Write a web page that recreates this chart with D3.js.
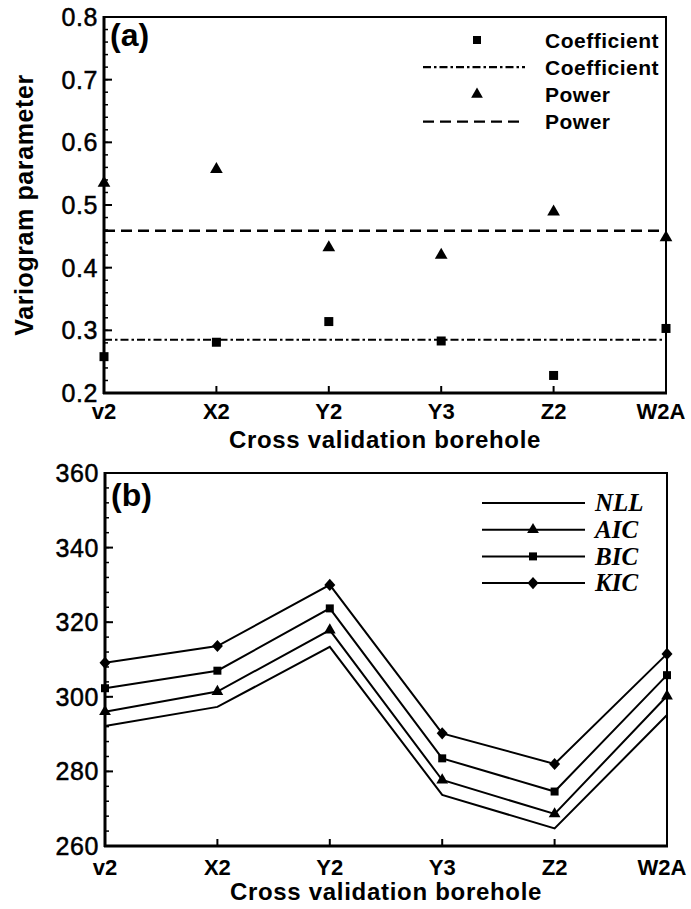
<!DOCTYPE html>
<html><head><meta charset="utf-8">
<script src="https://cdn.jsdelivr.net/npm/d3@7"></script>
<style>body{margin:0;background:#fff}svg{display:block}</style>
</head><body>
<script>
const categories = ["v2","X2","Y2","Y3","Z2","W2A"];
// Panel (a)
const coefficient = [0.258,0.281,0.314,0.283,0.228,0.303];
const power = [0.535,0.557,0.432,0.420,0.489,0.448];
const coefficientMean = 0.285;
const powerMean = 0.459;
const ticksA = [0.2,0.3,0.4,0.5,0.6,0.7,0.8];
// Panel (b)
const NLL = [292.2,297.3,313.4,273.7,264.7,295.1];
const AIC = [296.0,301.4,317.9,277.7,268.6,300.2];
const BIC = [302.3,307.0,323.7,283.5,274.6,305.8];
const KIC = [309.1,313.6,330.0,290.2,282.0,311.5];
const ticksB = [260,280,300,320,340,360];

const W=691,H=909;
const svg=d3.select("body").append("svg").attr("width",W).attr("height",H);
const FONT="Liberation Sans, Arial, sans-serif";

function panel(cfg){
  const x=d3.scalePoint().domain(categories).range([cfg.x0,cfg.x1]).padding(0);
  const y=d3.scaleLinear().domain(cfg.ydom).range([cfg.y0,cfg.y1]);
  const g=svg.append("g");
  g.append("rect").attr("x",cfg.x0).attr("y",cfg.y1).attr("width",cfg.x1-cfg.x0).attr("height",cfg.y0-cfg.y1)
    .attr("fill","none").attr("stroke","#000").attr("stroke-width",2);
  g.append("line").attr("x1",cfg.x0).attr("x2",cfg.x0).attr("y1",cfg.y0+1).attr("y2",cfg.y1-1).attr("stroke","#000").attr("stroke-width",3);
  g.append("line").attr("x1",cfg.x0-1).attr("x2",cfg.x1+1).attr("y1",cfg.y0).attr("y2",cfg.y0).attr("stroke","#000").attr("stroke-width",3);
  const minor=d3.range(cfg.ydom[0],cfg.ydom[1]+1e-9,cfg.minorStep);
  g.selectAll(".ym").data(minor).join("line")
    .attr("x1",cfg.x0).attr("x2",cfg.x0+4).attr("y1",d=>y(d)).attr("y2",d=>y(d)).attr("stroke","#000").attr("stroke-width",1.5);
  g.selectAll(".yM").data(cfg.ticks).join("line")
    .attr("x1",cfg.x0).attr("x2",cfg.x0+8).attr("y1",d=>y(d)).attr("y2",d=>y(d)).attr("stroke","#000").attr("stroke-width",2);
  g.selectAll(".yl").data(cfg.ticks).join("text")
    .attr("x",cfg.x0-6).attr("y",d=>y(d)).attr("dy","0.36em").attr("text-anchor","end")
    .attr("font-family",FONT).attr("font-size",25).attr("letter-spacing",0.6)
    .attr("stroke","#000").attr("stroke-width",0.5)
    .text(d=>cfg.fmt(d));
  g.selectAll(".xM").data(categories).join("line")
    .attr("x1",d=>x(d)).attr("x2",d=>x(d)).attr("y1",cfg.y0).attr("y2",cfg.y0-7).attr("stroke","#000").attr("stroke-width",2);
  g.selectAll(".xl").data(categories).join("text")
    .attr("x",d=>d==="W2A"?x(d)-5:x(d)).attr("y",cfg.xlabY).attr("text-anchor","middle")
    .attr("font-family",FONT).attr("font-weight","bold").attr("font-size",22)
    .text(d=>d);
  g.append("text").attr("x",(cfg.x0+cfg.x1)/2).attr("y",cfg.titleY).attr("text-anchor","middle")
    .attr("font-family",FONT).attr("font-weight","bold").attr("font-size",24).attr("letter-spacing",0.7)
    .text("Cross validation borehole");
  g.append("text").attr("x",cfg.x0+6).attr("y",cfg.labY)
    .attr("font-family",FONT).attr("font-weight","bold").attr("font-size",32)
    .text(cfg.label);
  return {x,y,g};
}

const sq=d3.symbol().type(d3.symbolSquare);
const tri=d3.symbol().type(d3.symbolTriangle);
const diamondPath=(r)=>`M0,${-r*1.1}L${r},0L0,${r*1.1}L${-r},0Z`;

// ---- Panel (a)
const A=panel({x0:104,x1:666,y0:393,y1:17,ydom:[0.2,0.8],ticks:ticksA,minorStep:0.02,
  fmt:d3.format(".1f"),xlabY:419,titleY:448,label:"(a)",labY:46});

A.g.append("line").attr("x1",104).attr("x2",666).attr("y1",A.y(coefficientMean)).attr("y2",A.y(coefficientMean))
  .attr("stroke","#000").attr("stroke-width",2.2).attr("stroke-dasharray","8,3,2.5,3");
A.g.append("line").attr("x1",104).attr("x2",666).attr("y1",A.y(powerMean)).attr("y2",A.y(powerMean))
  .attr("stroke","#000").attr("stroke-width",2.4).attr("stroke-dasharray","11,6");
A.g.selectAll(".cs").data(coefficient).join("path")
  .attr("d",sq.size(81)).attr("transform",(d,i)=>`translate(${A.x(categories[i])},${A.y(d)})`);
A.g.selectAll(".pt").data(power).join("path")
  .attr("d",tri.size(70)).attr("transform",(d,i)=>`translate(${A.x(categories[i])},${A.y(d)})`);

svg.append("text").attr("transform","translate(33,205) rotate(-90)").attr("text-anchor","middle")
  .attr("font-family",FONT).attr("font-weight","bold").attr("font-size",25).attr("letter-spacing",0.6)
  .text("Variogram parameter");

const legA=[
  {t:"Coefficient",k:"sq"},{t:"Coefficient",k:"dd"},{t:"Power",k:"tri"},{t:"Power",k:"dash"}];
const lgA=svg.append("g");
legA.forEach((d,i)=>{
  const yy=40+i*27.2;
  if(d.k==="sq") lgA.append("path").attr("d",sq.size(64)).attr("transform",`translate(477,${yy})`);
  if(d.k==="tri") lgA.append("path").attr("d",tri.size(60)).attr("transform",`translate(477,${yy})`);
  if(d.k==="dd") lgA.append("line").attr("x1",423).attr("x2",525).attr("y1",yy).attr("y2",yy)
      .attr("stroke","#000").attr("stroke-width",2.2).attr("stroke-dasharray","8,3,2.5,3");
  if(d.k==="dash") lgA.append("line").attr("x1",423).attr("x2",525).attr("y1",yy).attr("y2",yy)
      .attr("stroke","#000").attr("stroke-width",2.4).attr("stroke-dasharray","11,6");
  lgA.append("text").attr("x",545).attr("y",yy).attr("dy","0.36em")
    .attr("font-family",FONT).attr("font-weight","bold").attr("font-size",21).attr("letter-spacing",0.5)
    .text(d.t);
});

// ---- Panel (b)
const B=panel({x0:105,x1:667,y0:846,y1:473,ydom:[260,360],ticks:ticksB,minorStep:4,
  fmt:d3.format("d"),xlabY:875,titleY:900,label:"(b)",labY:506});
const seriesB=[{name:"NLL",v:NLL,m:null},{name:"AIC",v:AIC,m:"tri"},{name:"BIC",v:BIC,m:"sq"},{name:"KIC",v:KIC,m:"dia"}];
const line=d3.line().x((d,i)=>B.x(categories[i])).y(d=>B.y(d));
const markFor={tri:tri.size(60),sq:sq.size(64),dia:diamondPath(5.5)};
seriesB.forEach(s=>{
  B.g.append("path").attr("d",line(s.v)).attr("fill","none").attr("stroke","#000").attr("stroke-width",2).attr("stroke-linejoin","miter");
  if(s.m) B.g.selectAll(null).data(s.v).join("path").attr("d",markFor[s.m])
    .attr("transform",(d,i)=>`translate(${B.x(categories[i])},${B.y(d)})`);
});
const lgB=svg.append("g");
seriesB.forEach((s,i)=>{
  const yy=503+i*26.7;
  lgB.append("line").attr("x1",482).attr("x2",585).attr("y1",yy).attr("y2",yy).attr("stroke","#000").attr("stroke-width",2);
  if(s.m) lgB.append("path").attr("d",markFor[s.m]).attr("transform",`translate(533,${yy})`);
  lgB.append("text").attr("x",595).attr("y",yy).attr("dy","0.33em")
    .attr("font-family","Liberation Serif, Times New Roman, serif").attr("font-weight","bold").attr("font-style","italic")
    .attr("font-size",25).text(s.name);
});
</script>
</body></html>
